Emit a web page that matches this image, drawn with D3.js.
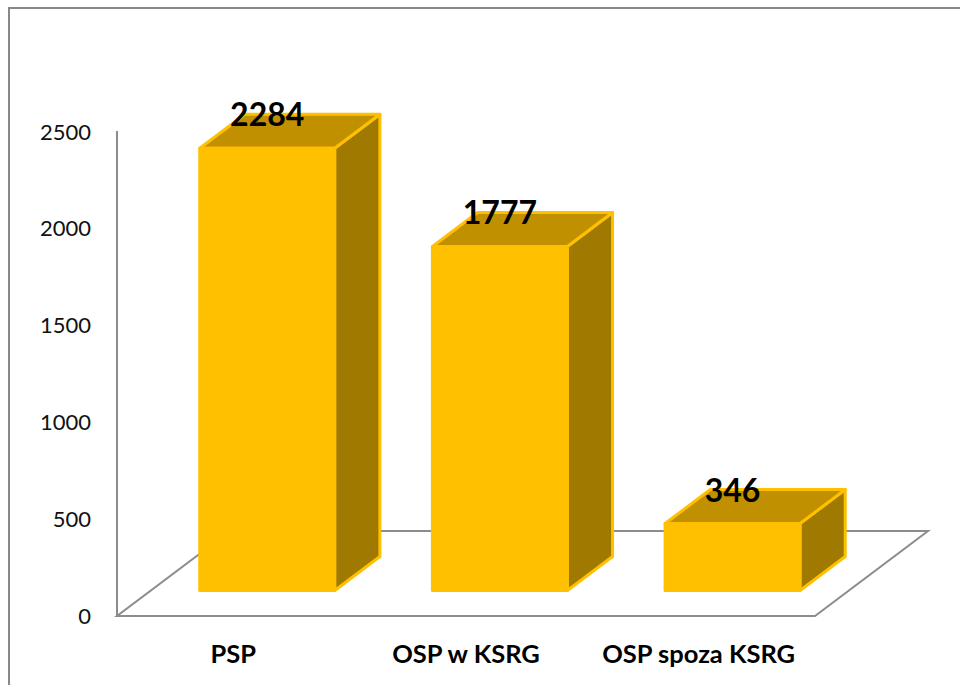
<!DOCTYPE html>
<html>
<head>
<meta charset="utf-8">
<script src="https://cdn.jsdelivr.net/npm/d3@7"></script>
<style>
  body { margin: 0; background: #fff; }
  svg { display: block; }
</style>
</head>
<body>
<div id="chart"></div>
<script>
// data
var categories = ["PSP", "OSP w KSRG", "OSP spoza KSRG"];
var values = [2284, 1777, 346];
var tickValues = [0, 500, 1000, 1500, 2000, 2500];

var width = 960, height = 685;

var svg = d3.select("#chart").append("svg")
    .attr("width", width)
    .attr("height", height);

// outer frame (runs off the page right / bottom)
svg.append("rect")
    .attr("x", 9).attr("y", 8)
    .attr("width", 1000).attr("height", 1000)
    .attr("fill", "none")
    .attr("stroke", "#888")
    .attr("stroke-width", 2);

// front plane scales
var xScale = d3.scaleBand()
    .domain(categories)
    .range([117, 815]);

var yScale = d3.scaleLinear()
    .domain([0, 2500])
    .range([616, 132]);

// oblique depth vector (full floor depth)
var depth = {dx: 113, dy: -85};
function proj(x, v, t) {
    return [x + t * depth.dx, yScale(v) + t * depth.dy];
}

// floor
var x0 = xScale.range()[0], x1 = xScale.range()[1];
var floor = [proj(x0, 0, 0), proj(x1, 0, 0), proj(x1, 0, 1), proj(x0, 0, 1)];
svg.append("path")
    .attr("d", d3.line()(floor) + "Z")
    .attr("fill", "none")
    .attr("stroke", "#8c8c8c")
    .attr("stroke-width", 2);

// vertical axis line
svg.append("line")
    .attr("x1", x0).attr("x2", x0)
    .attr("y1", yScale(2500) - 1).attr("y2", yScale(0))
    .attr("stroke", "#8c8c8c")
    .attr("stroke-width", 2);

// y tick labels
var yAxis = svg.append("g")
    .attr("transform", "translate(" + x0 + ",0)")
    .call(d3.axisLeft(yScale)
        .tickValues(tickValues)
        .tickFormat(d3.format("d"))
        .tickSize(0)
        .tickPadding(26));
yAxis.select(".domain").remove();
yAxis.selectAll("text")
    .attr("font-family", "Lato, sans-serif")
    .attr("font-size", 22)
    .attr("fill", "#111");

// bars
var barW = xScale.bandwidth() * 0.58;
var t0 = 0.3, t1 = 0.7;
var gBars = svg.append("g").attr("id", "bars");

categories.forEach(function (c, i) {
    var v = values[i];
    var cx = xScale(c) + xScale.bandwidth() / 2;
    var l = cx - barW / 2, r = cx + barW / 2;
    var g = gBars.append("g");

    // faces
    var front = [proj(l, 0, t0), proj(r, 0, t0), proj(r, v, t0), proj(l, v, t0)];
    var side = [proj(r, 0, t0), proj(r, 0, t1), proj(r, v, t1), proj(r, v, t0)];
    var top = [proj(l, v, t0), proj(r, v, t0), proj(r, v, t1), proj(l, v, t1)];

    [[side, "#a07a00"], [top, "#c09000"], [front, "#ffc000"]].forEach(function (f) {
        g.append("path")
            .attr("d", d3.line()(f[0]) + "Z")
            .attr("fill", f[1])
            .attr("stroke", "#ffc000")
            .attr("stroke-width", 3)
            .attr("stroke-linejoin", "round");
    });

    // value label
    var p = proj(cx, v, t0);
    g.append("text")
        .attr("x", p[0])
        .attr("y", p[1] - 22)
        .attr("text-anchor", "middle")
        .attr("font-family", "Lato, sans-serif")
        .attr("font-weight", "bold")
        .attr("font-size", 32)
        .attr("fill", "#000")
        .text(v);
});

// category labels
svg.append("g").selectAll("text")
    .data(categories)
    .enter()
    .append("text")
    .attr("x", function (d) { return xScale(d) + xScale.bandwidth() / 2; })
    .attr("y", 663)
    .attr("text-anchor", "middle")
    .attr("font-family", "Lato, sans-serif")
    .attr("font-weight", "bold")
    .attr("font-size", 25.5)
    .attr("fill", "#000")
    .text(function (d) { return d; });
</script>
</body>
</html>
